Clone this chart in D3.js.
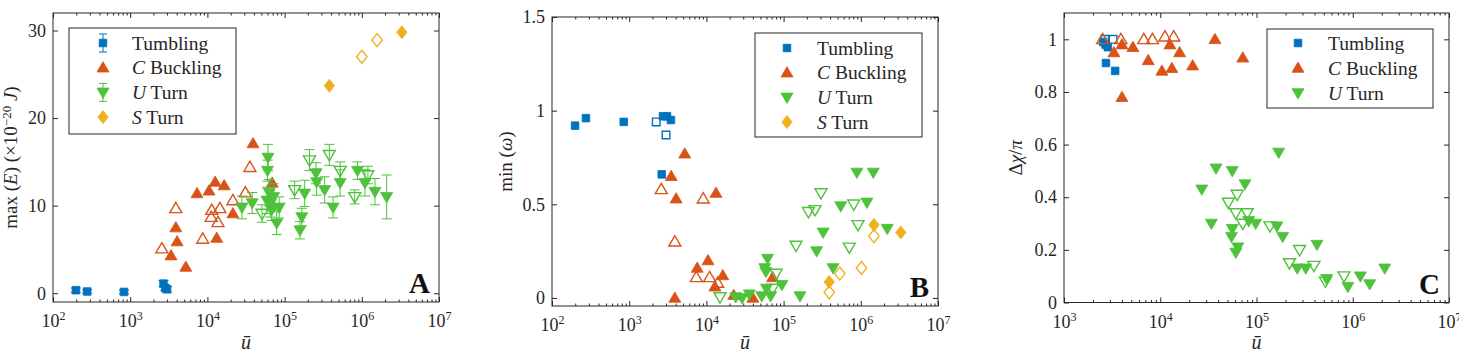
<!DOCTYPE html>
<html>
<head>
<meta charset="utf-8">
<script src="https://cdn.jsdelivr.net/npm/d3@7"></script>
<style>
  body { margin: 0; background: #fff; }
  svg { display: block; }
</style>
</head>
<body>
<div id="root"></div>
<script>
const width = 1459;
const height = 353;
const FONT = '"Liberation Serif", "Times New Roman", serif';
const INK = '#262626';
const BLUE = '#0072BD';
const ORANGE = '#D95319';
const GREEN = '#4DC23A';
const YELLOW = '#EDB120';

// ---- tick values ----
const xMajor = [1e2, 1e3, 1e4, 1e5, 1e6, 1e7];
const xMajorC = [1e3, 1e4, 1e5, 1e6, 1e7];
const yTicksA = [0, 10, 20, 30];
const yTicksB = [0, 0.5, 1, 1.5];
const yTicksC = [0, 0.2, 0.4, 0.6, 0.8, 1];

// ---- panel A : max(E), [u, E, err] ----
const tumblingA = [[198, 0.35, 0.25], [277, 0.2, 0.2], [830, 0.15, 0.2], [2700, 1.1, 0.35], [2850, 0.6, 0.3], [3000, 0.45, 0.3]];
const cBucklingA = [[3380, 4.3], [3900, 7.5], [4050, 5.9], [5250, 3.0], [7340, 11.4], [10500, 11.7], [12600, 12.7],
  [13200, 6.3], [16500, 12.3], [21400, 9.1], [39000, 17.1], [69000, 12.6]];
const cBucklingAOpen = [[2570, 5.1], [3900, 9.7], [8700, 6.2], [11200, 8.7], [11400, 9.5], [13700, 8.1], [14500, 9.7],
  [21400, 10.6], [31000, 11.5], [35500, 14.4]];
const uTurnA = [[28000, 9.8, 1.3], [38000, 10.3, 1.2], [59000, 10.6, 1.5], [61000, 15.5, 1.5], [60000, 14.0, 1.2],
  [63000, 11.5, 1.5], [65000, 10.2, 1.5], [68000, 9.5, 1.2], [72000, 11.0, 1.5], [79000, 8.0, 1.3], [85000, 9.8, 1.2],
  [158000, 7.2, 1.0], [167000, 8.7, 1.0], [182000, 11.4, 1.5], [255000, 13.7, 1.2], [260000, 12.7, 1.5],
  [330000, 11.8, 1.5], [425000, 9.8, 1.2], [525000, 12.6, 1.5], [880000, 14.0, 1.0], [1.1e6, 12.6, 1.5],
  [1.48e6, 11.6, 1.5], [2.1e6, 11.0, 2.5]];
const uTurnAOpen = [[51000, 9.1, 1.0], [135000, 11.8, 1.0], [210000, 15.2, 1.2], [380000, 15.8, 1.2],
  [525000, 14.0, 1.0], [810000, 11.0, 0.8], [1.2e6, 13.5, 1.0]];
const sTurnA = [[380000, 23.7], [3.3e6, 29.8]];
const sTurnAOpen = [[1.0e6, 27.0], [1.58e6, 28.9]];

// ---- panel B : min(omega) ----
const tumblingB = [[199, 0.92], [275, 0.96], [850, 0.94], [2740, 0.97], [3090, 0.97], [3470, 0.95], [2640, 0.66]];
const tumblingBOpen = [[2240, 0.94], [3000, 0.87]];
const cBucklingB = [[3500, 0.65], [5240, 0.77], [4050, 0.53], [3900, 0.0], [13300, 0.56], [7600, 0.16], [10500, 0.20],
  [12900, 0.06], [16300, 0.12], [22600, 0.015], [40000, 0.0], [72000, 0.11]];
const cBucklingBOpen = [[2600, 0.58], [3900, 0.30], [9100, 0.53], [7400, 0.11], [11000, 0.11], [14000, 0.08]];
const uTurnB = [[29000, 0.0], [24000, 0.005], [36000, 0.02], [57000, 0.16], [59000, 0.14], [60000, 0.05],
  [62000, 0.21], [52000, 0.01], [68000, 0.01], [95000, 0.07], [163000, 0.01], [268000, 0.25], [325000, 0.35],
  [437000, 0.16], [550000, 0.49], [1.2e6, 0.51], [2.2e6, 0.37], [890000, 0.67], [1.45e6, 0.67]];
const uTurnBOpen = [[15000, 0.005], [80000, 0.13], [72000, 0.05], [145000, 0.28], [210000, 0.46], [255000, 0.47],
  [305000, 0.56], [810000, 0.50], [920000, 0.39], [710000, 0.27]];
const sTurnB = [[390000, 0.085], [1.48e6, 0.39], [3.3e6, 0.35]];
const sTurnBOpen = [[390000, 0.03], [535000, 0.13], [1.02e6, 0.16], [1.48e6, 0.33]];

// ---- panel C : delta chi / pi ----
const tumblingC = [[2550, 0.99], [2700, 0.98], [2850, 0.97], [2730, 0.91], [3400, 0.88]];
const tumblingCOpen = [[2650, 1.0], [3240, 1.0]];
const cBucklingC = [[3300, 0.95], [4000, 0.98], [4000, 0.78], [5200, 0.97], [7500, 0.92], [10400, 0.88], [12600, 0.98],
  [13200, 0.89], [15900, 0.95], [21700, 0.90], [37000, 1.0], [72000, 0.93]];
const cBucklingCOpen = [[2520, 1.0], [3900, 1.0], [6750, 1.0], [8300, 1.0], [11200, 1.01], [13800, 1.01]];
const uTurnC = [[27000, 0.43], [34000, 0.30], [38000, 0.51], [56000, 0.50], [170000, 0.57], [76000, 0.45],
  [83000, 0.31], [98000, 0.30], [56000, 0.28], [55000, 0.25], [64000, 0.21], [61000, 0.19], [163000, 0.29],
  [187000, 0.25], [425000, 0.22], [265000, 0.13], [325000, 0.13], [535000, 0.09], [890000, 0.06], [1.2e6, 0.10],
  [1.5e6, 0.07], [2.15e6, 0.13]];
const uTurnCOpen = [[63000, 0.41], [51000, 0.38], [61000, 0.34], [80000, 0.34], [72000, 0.30], [138000, 0.29],
  [280000, 0.20], [220000, 0.15], [395000, 0.14], [520000, 0.08], [810000, 0.10]];

// marker outlines, centred on the point
const shapePath = (type) => {
  switch (type) {
    case 'square': return 'M-3.8,-3.8H3.8V3.8H-3.8Z';
    case 'up': return 'M0,-6L6,4.3H-6Z';
    case 'down': return 'M0,6L6,-4.3H-6Z';
    case 'diamond': return 'M0,-6.5L5.2,0L0,6.5L-5.2,0Z';
  }
};

const svg = d3.select('#root')
  .append('svg')
  .attr('width', width)
  .attr('height', height)
  .style('font-family', FONT);

// appends [text, italic, dy, size] parts as tspans
const addParts = (text, parts) => {
  parts.forEach(([t, it, dy, size]) => {
    const ts = text.append('tspan').text(t);
    if (it) ts.attr('font-style', 'italic');
    if (dy) ts.attr('dy', dy);
    if (size) ts.attr('font-size', size);
  });
};

function drawPanel(p) {
  const x = d3.scaleLog().domain(p.xDomain).range([p.l, p.r]);
  const y = d3.scaleLinear().domain(p.yDomain).range([p.b, p.t]);
  const g = svg.append('g');

  const lo = Math.log10(p.xDomain[0]);
  const hi = Math.log10(p.xDomain[1]);
  const minors = [];
  for (let e = lo; e < hi; e++) for (let k = 2; k < 10; k++) minors.push(k * 10 ** e);

  g.append('g').attr('transform', `translate(0,${p.b})`)
    .call(d3.axisBottom(x).tickValues(minors).tickSize(-2.5).tickFormat(''));
  g.append('g').attr('transform', `translate(0,${p.t})`)
    .call(d3.axisTop(x).tickValues(minors).tickSize(-2.5).tickFormat(''));
  g.append('g').attr('transform', `translate(0,${p.t})`)
    .call(d3.axisTop(x).tickValues(p.xTicks).tickSize(-5).tickFormat(''));
  g.append('g').attr('transform', `translate(${p.r},0)`)
    .call(d3.axisRight(y).tickValues(p.yTicks).tickSize(-5).tickFormat(''));

  const bottom = g.append('g').attr('transform', `translate(0,${p.b})`)
    .call(d3.axisBottom(x).tickValues(p.xTicks).tickSize(-5).tickFormat(''));
  bottom.selectAll('.tick text')
    .attr('y', 25).attr('dy', null)
    .each(function (d) {
      const t = d3.select(this);
      t.append('tspan').text('10');
      t.append('tspan').attr('dy', -7).attr('font-size', 12).text(Math.round(Math.log10(d)));
    });

  g.append('g').attr('transform', `translate(${p.l},0)`)
    .call(d3.axisLeft(y).tickValues(p.yTicks).tickSize(-5).tickPadding(7).tickFormat(d => d));

  g.selectAll('.domain').remove();
  g.selectAll('.tick line').attr('stroke', INK);
  g.selectAll('.tick text').attr('fill', INK).attr('font-size', 18).attr('font-family', FONT);

  g.append('rect')
    .attr('x', p.l).attr('y', p.t)
    .attr('width', p.r - p.l).attr('height', p.b - p.t)
    .attr('fill', 'none').attr('stroke', INK).attr('stroke-width', 1);

  // series
  p.series.forEach(s => {
    [['open', s.open], ['filled', s.filled]].forEach(([kind, data]) => {
      if (!data) return;
      if (s.err) {
        const eb = g.append('g').attr('stroke', s.color).attr('stroke-width', 1);
        data.forEach(d => {
          const px = x(d[0]);
          const y0 = y(d[1] - d[2]);
          const y1 = y(d[1] + d[2]);
          eb.append('line').attr('x1', px).attr('x2', px).attr('y1', y0).attr('y2', y1);
          eb.append('line').attr('x1', px - 5).attr('x2', px + 5).attr('y1', y0).attr('y2', y0);
          eb.append('line').attr('x1', px - 5).attr('x2', px + 5).attr('y1', y1).attr('y2', y1);
        });
      }
      g.append('g').selectAll('path')
        .data(data)
        .join('path')
        .attr('transform', d => `translate(${x(d[0])},${y(d[1])})`)
        .attr('d', shapePath(s.shape))
        .attr('fill', kind === 'filled' ? s.color : 'none')
        .attr('stroke', s.color)
        .attr('stroke-width', kind === 'filled' ? 0.8 : 1.4);
    });
  });

  // legend
  const lg = p.legend;
  g.append('rect')
    .attr('x', lg.x).attr('y', lg.y).attr('width', lg.w).attr('height', lg.h)
    .attr('fill', '#fff').attr('stroke', INK).attr('stroke-width', 1);
  p.series.forEach((s, i) => {
    const cy = lg.y0 + i * lg.dy;
    if (lg.err && s.err) {
      g.append('path')
        .attr('d', `M${lg.mx - 4},${cy - 9}H${lg.mx + 4}M${lg.mx},${cy - 9}V${cy + 9}M${lg.mx - 4},${cy + 9}H${lg.mx + 4}`)
        .attr('stroke', s.color).attr('fill', 'none');
    }
    g.append('path')
      .attr('transform', `translate(${lg.mx},${cy})`)
      .attr('d', shapePath(s.shape))
      .attr('fill', s.color).attr('stroke', s.color).attr('stroke-width', 0.8);
    const t = g.append('text')
      .attr('x', lg.tx).attr('y', cy + 6.5)
      .attr('font-size', 19.5).attr('fill', INK);
    addParts(t, s.label);
  });

  // panel letter
  g.append('text')
    .attr('x', p.r - 9).attr('y', p.b - 9)
    .attr('text-anchor', 'end')
    .attr('font-size', 29).attr('font-weight', 'bold')
    .attr('fill', '#111')
    .text(p.letter);

  // x label
  g.append('text')
    .attr('x', (p.l + p.r) / 2).attr('y', 349)
    .attr('text-anchor', 'middle').attr('font-size', 20).attr('font-style', 'italic')
    .attr('fill', INK)
    .text('\u016B');

  // y label
  const yl = g.append('text')
    .attr('transform', `translate(${p.ylx},${(p.t + p.b) / 2}) rotate(-90)`)
    .attr('text-anchor', 'middle').attr('font-size', 19).attr('fill', INK);
  addParts(yl, p.ylabel);
}

const labels = {
  tumbling: [['Tumbling', false]],
  cBuckling: [['C', true], [' Buckling', false]],
  uTurn: [['U', true], [' Turn', false]],
  sTurn: [['S', true], [' Turn', false]]
};

drawPanel({
  l: 53, r: 439, t: 13, b: 302,
  xDomain: [1e2, 1e7], yDomain: [-1, 32],
  xTicks: xMajor, yTicks: yTicksA,
  letter: 'A', ylx: 17,
  ylabel: [['max (', false], ['E', true], [') (\u00D710', false], ['\u221220', false, -6, 13], [' ', false, 6], ['J', true], [')', false]],
  legend: { x: 69, y: 28, w: 167, h: 106, y0: 43, dy: 24.7, mx: 103, tx: 132, err: true },
  series: [
    { shape: 'square', color: BLUE, filled: tumblingA, err: true, label: labels.tumbling },
    { shape: 'up', color: ORANGE, filled: cBucklingA, open: cBucklingAOpen, label: labels.cBuckling },
    { shape: 'down', color: GREEN, filled: uTurnA, open: uTurnAOpen, err: true, label: labels.uTurn },
    { shape: 'diamond', color: YELLOW, filled: sTurnA, open: sTurnAOpen, label: labels.sTurn }
  ]
});

drawPanel({
  l: 552, r: 938, t: 17, b: 306,
  xDomain: [1e2, 1e7], yDomain: [-0.043, 1.5],
  xTicks: xMajor, yTicks: yTicksB,
  letter: 'B', ylx: 512,
  ylabel: [['min (', false], ['\u03C9', true], [')', false]],
  legend: { x: 755, y: 33, w: 167, h: 104, y0: 48, dy: 24.7, mx: 787, tx: 817 },
  series: [
    { shape: 'square', color: BLUE, filled: tumblingB, open: tumblingBOpen, label: labels.tumbling },
    { shape: 'up', color: ORANGE, filled: cBucklingB, open: cBucklingBOpen, label: labels.cBuckling },
    { shape: 'down', color: GREEN, filled: uTurnB, open: uTurnBOpen, label: labels.uTurn },
    { shape: 'diamond', color: YELLOW, filled: sTurnB, open: sTurnBOpen, label: labels.sTurn }
  ]
});

drawPanel({
  l: 1064, r: 1449, t: 13, b: 302.5,
  xDomain: [1e3, 1e7], yDomain: [0, 1.1],
  xTicks: xMajorC, yTicks: yTicksC,
  letter: 'C', ylx: 1022,
  ylabel: [['\u0394', false], ['\u03C7', true], ['/', false], ['\u03C0', true]],
  legend: { x: 1267, y: 29, w: 166, h: 79, y0: 43, dy: 25, mx: 1298, tx: 1328 },
  series: [
    { shape: 'square', color: BLUE, filled: tumblingC, open: tumblingCOpen, label: labels.tumbling },
    { shape: 'up', color: ORANGE, filled: cBucklingC, open: cBucklingCOpen, label: labels.cBuckling },
    { shape: 'down', color: GREEN, filled: uTurnC, open: uTurnCOpen, label: labels.uTurn }
  ]
});
</script>
</body>
</html>
